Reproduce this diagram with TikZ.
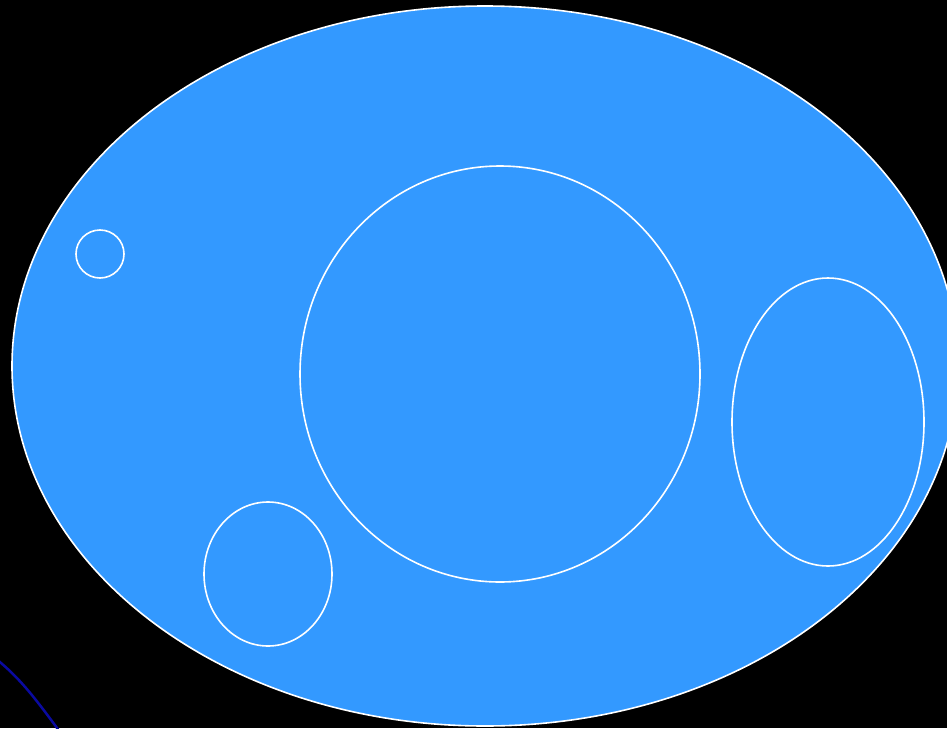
\documentclass[tikz,border=0pt]{standalone}
\definecolor{fillblue}{HTML}{3399FF}
\definecolor{darkline}{HTML}{0A0AA0}
\begin{document}
\begin{tikzpicture}[x=1pt,y=-1pt,
  blob/.style={draw=white,line width=1.6pt}]
\useasboundingbox (0,0) rectangle (947,728);
\fill[black] (0,0) rectangle (947,728);
\begin{scope}
\clip (0,0) rectangle (947,728);
\draw[blob,fill=fillblue] (485,366) ellipse [x radius=473, y radius=360];
\draw[darkline,line width=2.5pt] (-5,658) .. controls (20,678) and (35,698) .. (60,732);
\end{scope}
\draw[blob] (100,254) circle [radius=24];
\draw[blob] (500,374) ellipse [x radius=200, y radius=208];
\draw[blob] (828,422) ellipse [x radius=96, y radius=144];
\draw[blob] (268,574) ellipse [x radius=64, y radius=72];
\end{tikzpicture}
\end{document}
